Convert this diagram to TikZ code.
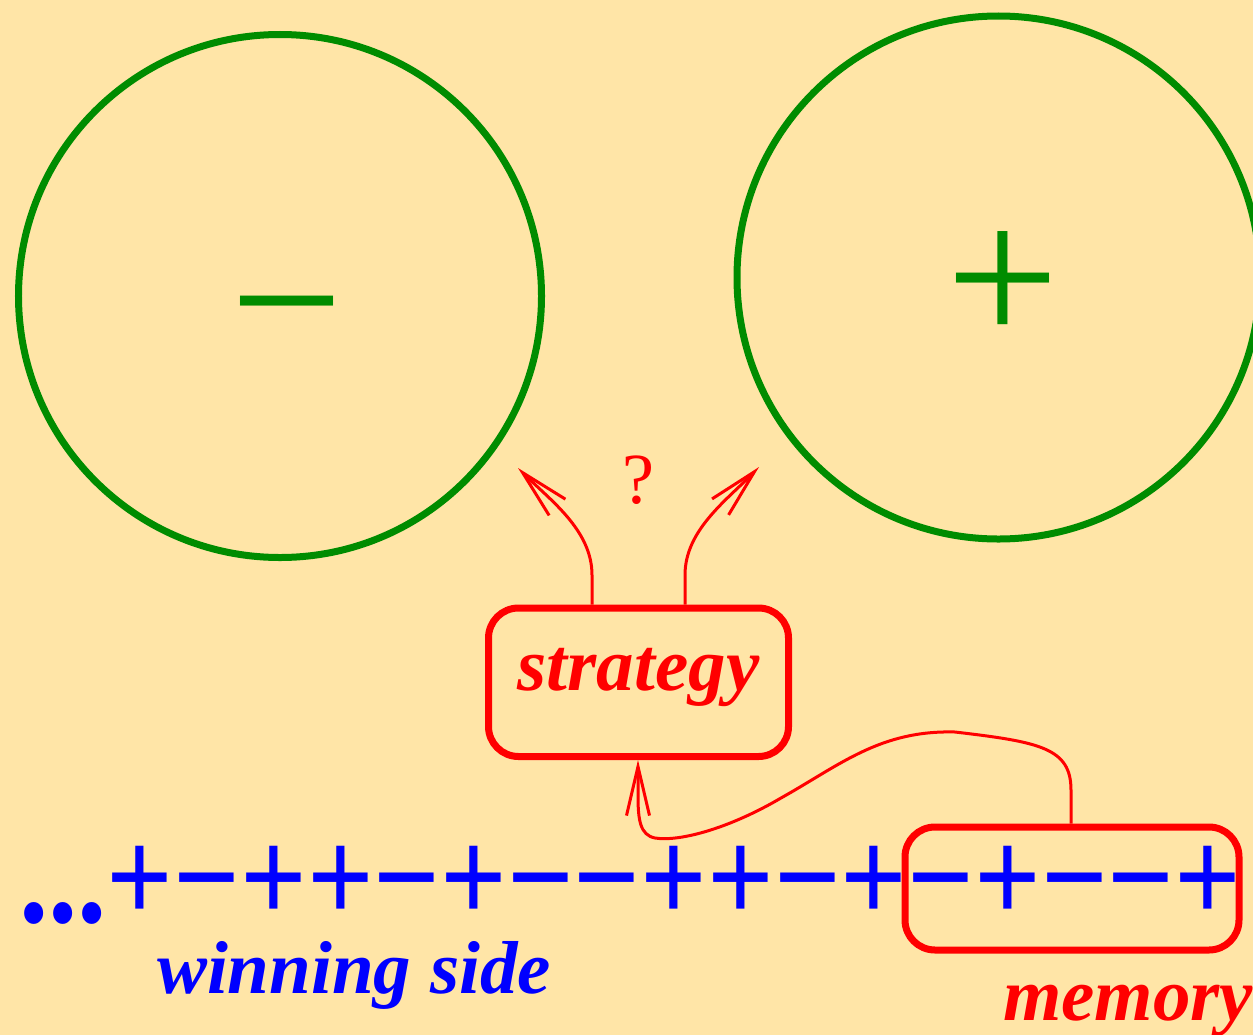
\documentclass[tikz,border=0pt]{standalone}
\usepackage{fontspec}
\usepackage{graphicx}
\setmainfont{Liberation Serif}
\usetikzlibrary{arrows.meta}
\definecolor{bg}{RGB}{255,229,167}
\definecolor{grn}{RGB}{0,140,0}
\tikzset{
  setcircle/.style={circle, draw=grn, line width=7bp, minimum size=523bp, inner sep=0pt},
  signtext/.style={text=grn, inner sep=0pt, font=\fontsize{200bp}{205bp}\selectfont},
  redbox/.style={draw=red, line width=7bp, rounded corners=30bp, inner sep=0pt},
  biglabel/.style={font=\bfseries\itshape\fontsize{75bp}{90bp}\selectfont, inner sep=0pt},
  arr/.style={draw=red, line width=3bp, -{Straight Barb[length=49bp,width=23bp]}},
}
\begin{document}
\begin{tikzpicture}[x=1bp,y=-1bp]
\useasboundingbox (0,0) rectangle (1253,1035);
\fill[bg] (0,0) rectangle (1253,1035);
\clip (0,0) rectangle (1253,1035);

% the two sets
\node[setcircle] (minus) at (280,296) {};
\node[setcircle] (plus) at (998.5,277.5) {};
\node[signtext] (minussign) at (286.5,331.5) {−};
\node[signtext] (plussign) at (1002.5,288) {+};

% strategy box
\node[redbox, biglabel, text=red, anchor=base, minimum width=300bp,
      text height=82bp, text depth=66.5bp] (strat) at (638.5,690) {strategy};

% question mark
\node[red, inner sep=0pt, anchor=base, font=\fontsize{72bp}{80bp}\selectfont] (q) at (638.5,503) {?};

% sequence of winning sides
\node[blue, inner sep=0pt, anchor=base, text depth=0pt, font=\bfseries\fontsize{135bp}{150bp}\selectfont] (seq) at (630,922)
  {\scalebox{0.867}[1]{...+−++−+−−++−+−+−−+}};

% memory box
\node[redbox, minimum width=334bp, minimum height=123bp] (mem) at (1072,888.5) {};

% labels
\node[biglabel, text=blue, anchor=base] (win) at (354,993) {winning side};
\node[biglabel, text=red, anchor=base west] (memlab) at (1003,1020) {memory};

% connectors
\coordinate (la) at (592,0);
\coordinate (ra) at (685,0);
\coordinate (mt) at (1071,0);
\coordinate (tc) at (638,0);
\coordinate (ltip) at (518,468);
\coordinate (rtip) at (759,467);

\draw[arr] (strat.north -| la) -- (592,575) .. controls (592,530) and (550,500) .. (ltip);
\draw[arr] (strat.north -| ra) -- (685,575) .. controls (685,530) and (727,500) .. (rtip);

\draw[arr] (mem.north -| mt) -- (1071,790)
  .. controls (1071,748) and (1040,742) .. (955,732)
  .. controls (880,730) and (840,765) .. (781,798)
  .. controls (730,828) and (680,842) .. (655,838)
  .. controls (640,835) and (638,820) .. (638,795)
  -- (strat.south -| tc);
\end{tikzpicture}
\end{document}
